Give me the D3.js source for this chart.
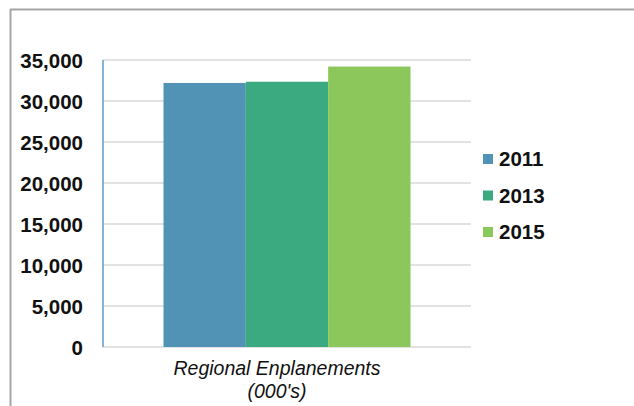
<!DOCTYPE html>
<html>
<head>
<meta charset="utf-8">
<script src="https://cdn.jsdelivr.net/npm/d3@7"></script>
<style>
  html, body { margin: 0; padding: 0; background: #fff; }
  svg { display: block; }
</style>
</head>
<body>
<svg id="chart" width="634" height="406"></svg>
<script>
// Regional enplanements (thousands) by year
const categories = ["Regional Enplanements (000's)"];
const categoryLines = ["Regional Enplanements", "(000's)"];
const years = ["2011", "2013", "2015"];
const enplanements = [32200, 32350, 34200];
const yTicks = [0, 5000, 10000, 15000, 20000, 25000, 30000, 35000];
const colors = ["#5193b5", "#3baa80", "#8bc75b"];

const svg = d3.select("#chart");
const W = 634, H = 406;
const plot = { left: 103, right: 471, top: 60, bottom: 347 };
const FONT = "'Liberation Sans', Arial, sans-serif";
const fmt = d3.format(",");

// frame
svg.append("line").attr("x1", 10).attr("x2", W).attr("y1", 9.5).attr("y2", 9.5)
  .attr("stroke", "#a6a6a6").attr("stroke-width", 2);
svg.append("line").attr("x1", 10.5).attr("x2", 10.5).attr("y1", 9).attr("y2", H)
  .attr("stroke", "#a6a6a6").attr("stroke-width", 2);

const y = d3.scaleLinear().domain([0, 35000]).range([plot.bottom, plot.top]);
const x = d3.scaleBand().domain(categories).range([plot.left, plot.right])
  .paddingInner(0).paddingOuter(0.245);
const xs = d3.scaleBand().domain(years).range([0, x.bandwidth()]).padding(0);

// gridlines
svg.append("g").selectAll("line").data(yTicks).join("line")
  .attr("x1", plot.left).attr("x2", plot.right)
  .attr("y1", d => y(d)).attr("y2", d => y(d))
  .attr("stroke", "#d9d9d9").attr("stroke-width", 1.5);

// y axis with tick labels
const yAxis = svg.append("g")
  .attr("transform", `translate(${plot.left},0)`)
  .call(d3.axisLeft(y).tickValues(yTicks).tickFormat(fmt).tickSize(0).tickPadding(20));
yAxis.select(".domain").remove();
yAxis.selectAll("text")
  .attr("dy", "0.36em")
  .attr("font-family", FONT)
  .attr("font-weight", "bold")
  .attr("font-size", 20.5)
  .attr("fill", "#111");
svg.append("line").attr("x1", plot.left).attr("x2", plot.left)
  .attr("y1", y(35000)).attr("y2", y(0))
  .attr("stroke", "#5b9cc2").attr("stroke-width", 1.5);

// bars
const groups = svg.append("g").selectAll("g").data(categories).join("g")
  .attr("transform", d => `translate(${x(d)},0)`);
groups.selectAll("rect").data(years.map((yr, i) => ({ yr, v: enplanements[i], c: colors[i] })))
  .join("rect")
  .attr("x", d => xs(d.yr)).attr("width", xs.bandwidth())
  .attr("y", d => y(d.v)).attr("height", d => y(0) - y(d.v))
  .attr("fill", d => d.c);

// category label (two lines, italic)
const cx = x(categories[0]) + x.bandwidth() / 2 - 10;
svg.append("g").selectAll("text").data(categoryLines).join("text")
  .attr("x", cx).attr("y", (d, i) => 375 + i * 23)
  .attr("text-anchor", "middle")
  .attr("font-family", FONT)
  .attr("font-style", "italic").attr("font-size", 19.5)
  .attr("fill", "#111").text(d => d);

// legend
const lg = svg.append("g").selectAll("g").data(years).join("g")
  .attr("transform", (d, i) => `translate(483,${159 + i * 36.5})`);
lg.append("rect").attr("x", 0).attr("y", -5).attr("width", 10).attr("height", 10)
  .attr("fill", (d, i) => colors[i]);
lg.append("text").attr("x", 16).attr("dy", "0.36em")
  .attr("font-family", FONT)
  .attr("font-weight", "bold").attr("font-size", 20.5)
  .attr("fill", "#111").text(d => d);
</script>
</body>
</html>
